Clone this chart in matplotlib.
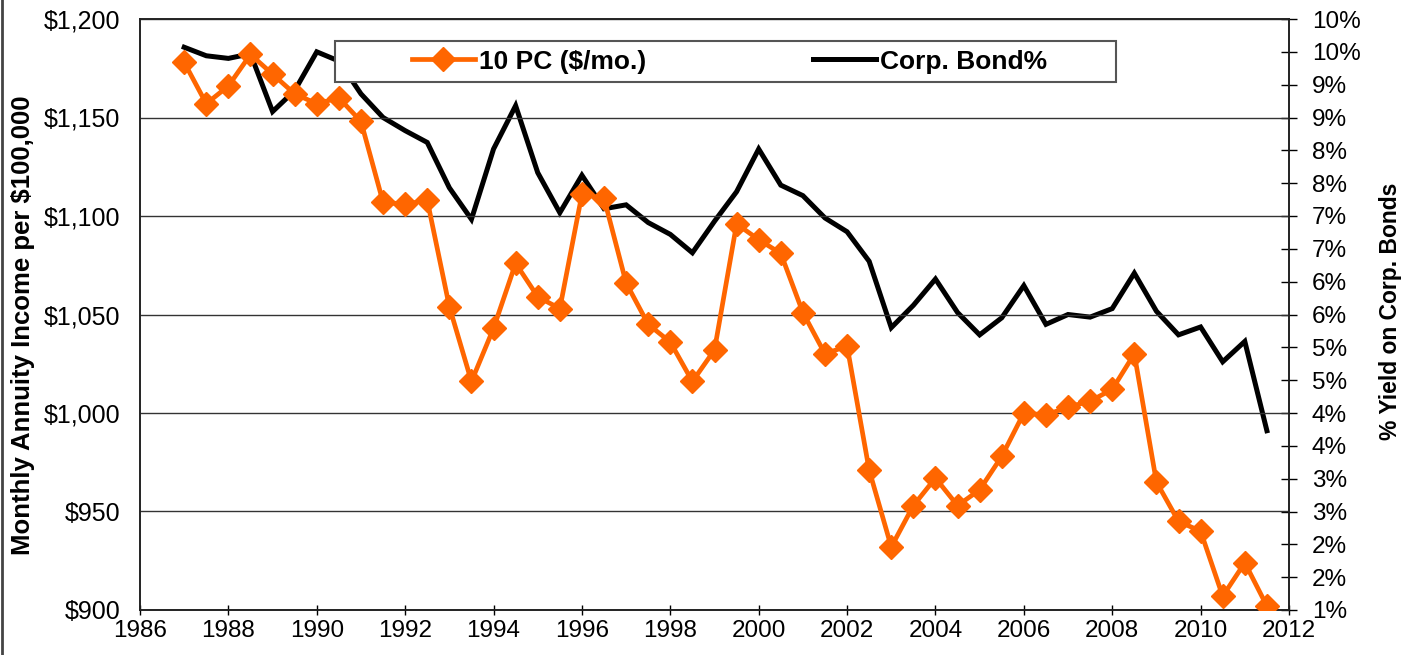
import matplotlib
matplotlib.use("Agg")
import matplotlib.pyplot as plt
from matplotlib.patches import Rectangle
from matplotlib.lines import Line2D
from matplotlib.transforms import Bbox

plt.rcParams['font.family'] = ['Liberation Sans', 'DejaVu Sans']

# semiannual observations, 1987 .. 2011.5
years = [1987 + 0.5 * i for i in range(50)]

annuity = [1178, 1157, 1166, 1182, 1172, 1162, 1157, 1160, 1148, 1107,
           1106, 1108, 1054, 1016, 1043, 1076, 1059, 1053, 1111, 1109,
           1066, 1045, 1036, 1016, 1032, 1096, 1088, 1081, 1051, 1030,
           1034, 971, 932, 953, 967, 953, 961, 978, 1000, 999,
           1003, 1006, 1012, 1030, 965, 945, 940, 907, 924, 902]

bond_yield = [9.57, 9.44, 9.40, 9.47, 8.59, 8.91, 9.50, 9.36, 8.86, 8.50,
              8.30, 8.12, 7.43, 6.95, 8.02, 8.68, 7.66, 7.05, 7.62, 7.11,
              7.17, 6.90, 6.72, 6.44, 6.92, 7.37, 8.02, 7.47, 7.31, 6.97,
              6.76, 6.31, 5.30, 5.64, 6.04, 5.53, 5.19, 5.45, 5.94, 5.35,
              5.50, 5.46, 5.59, 6.13, 5.55, 5.19, 5.31, 4.78, 5.09, 3.73]

left_ticks = [900, 950, 1000, 1050, 1100, 1150, 1200]
left_labels = ['$900', '$950', '$1,000', '$1,050', '$1,100', '$1,150', '$1,200']
right_ticks = [1.0 + 0.5 * i for i in range(19)]
right_labels = ['1%', '2%', '2%', '3%', '3%', '4%', '4%', '5%', '5%', '6%',
                '6%', '7%', '7%', '8%', '8%', '9%', '9%', '10%', '10%']
x_ticks = list(range(1986, 2013, 2))

orange = '#FF6600'

fig = plt.figure(figsize=(14.08, 6.55), dpi=100)
ax = fig.add_axes([140 / 1408, 45 / 655, 1149 / 1408, 591 / 655])
ax2 = ax.twinx()
ax.set_zorder(ax2.get_zorder() + 1)
ax.patch.set_visible(False)

ax2.plot(years, bond_yield, color='black', lw=3.6, solid_joinstyle='miter', zorder=3)
ax.plot(years, annuity, color=orange, lw=3.4, marker='D', markersize=12,
        markeredgecolor=orange, zorder=4)

ax.set_xlim(1986, 2012)
ax.set_ylim(900, 1200)
ax2.set_ylim(1, 10)

ax.set_xticks(x_ticks)
ax.set_xticklabels([str(x) for x in x_ticks], fontsize=17.5)
ax.set_yticks(left_ticks)
ax.set_yticklabels(left_labels, fontsize=18)
ax2.set_yticks(right_ticks)
ax2.set_yticklabels(right_labels, fontsize=17.5)

ax.tick_params(axis='y', length=0, pad=14)
ax.tick_params(axis='x', direction='inout', length=7, width=1, pad=4)
ax2.tick_params(axis='y', direction='inout', length=11, width=1, pad=11)

ax.grid(axis='y', color='#333333', lw=1)
ax.set_axisbelow(True)
for a in (ax, ax2):
    for s in a.spines.values():
        s.set_color('#222222')
        s.set_linewidth(1.2)

ax.set_ylabel('Monthly Annuity Income per $100,000', fontsize=18.5,
              fontweight='bold')
ax.yaxis.set_label_coords(-0.091, 0.482)

# right label, clipped at the top like the original
ylab = fig.text(1390 / 1408, (655 - 440) / 655, '% Yield on Corp. Bonds',
                rotation=90, ha='center', va='bottom', fontsize=16.5,
                fontweight='bold')
ylab.set_clip_box(Bbox.from_extents(1300, 0, 1408, 655 - 180))
ylab.set_clip_on(True)

# legend box
ax.add_patch(Rectangle((0.17, 0.893), 0.679, 0.070, transform=ax.transAxes,
                       facecolor='white', edgecolor='#555555', lw=1.5,
                       zorder=10))
handles = [Line2D([], [], color=orange, lw=3.4, marker='D', markersize=12),
           Line2D([], [], color='black', lw=3.6)]
leg = ax.legend(handles, ['10 PC ($/mo.)', 'Corp. Bond%'], ncol=2,
                loc='center', bbox_to_anchor=(0.513, 0.928), frameon=False,
                prop={'size': 19, 'weight': 'bold'}, handlelength=2.4,
                handletextpad=0.15, columnspacing=6.3, borderpad=0)
leg.set_zorder(11)

fig.add_artist(Line2D([0.0015, 0.0015], [0, 1], transform=fig.transFigure,
                      color='#444444', lw=2))

fig.savefig('out.png', dpi=100)
